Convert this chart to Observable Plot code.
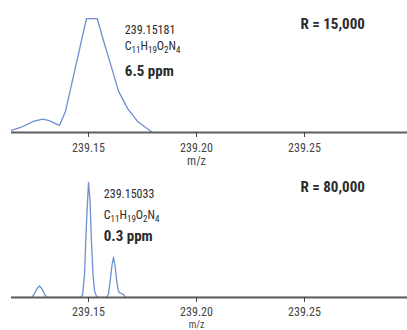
<!DOCTYPE html>
<html>
<head>
<meta charset="utf-8">
<script src="https://cdn.jsdelivr.net/npm/d3@7"></script>
<script src="https://cdn.jsdelivr.net/npm/@observablehq/plot@0.6"></script>
<style>
  html, body { margin: 0; padding: 0; background: #fff; }
  #chart svg { display: block; }
  #chart { width: 407px; }
</style>
</head>
<body>
<div id="chart"></div>
<script>
// ---- data ----
const mzDomain = [239.11435, 239.29769];
const tickValues = [239.15, 239.20, 239.25];
const tickLabels = ["239.15", "239.20", "239.25"];
const axisTitle = "m/z";

// R = 15,000 profile (intensity, clipped at top of frame)
const lowResMz = [239.11435, 239.11852, 239.12454, 239.12870, 239.13148, 239.13657, 239.13935, 239.14167, 239.14537, 239.14907, 239.15403, 239.15694, 239.16019, 239.16389, 239.16806, 239.17269, 239.17778, 239.17963];
const lowResI  = [1.8, 4.4, 9.7, 11.8, 10.6, 6.2, 18.6, 38.1, 69.0, 100, 100, 80.5, 60.2, 36.3, 21.2, 9.7, 2.7, 0];

// R = 80,000 profile
const highResMz = [239.11435, 239.12361, 239.12454, 239.12593, 239.12731, 239.12870, 239.12986, 239.13079, 239.14630, 239.14722, 239.14815, 239.14907, 239.15000, 239.15069, 239.15139, 239.15208, 239.15278, 239.15370, 239.15417, 239.15833, 239.15926, 239.16019, 239.16088, 239.16157, 239.16227, 239.16296, 239.16366, 239.16435, 239.16528, 239.16620, 239.16713, 239.29769];
const highResI  = [0, 0, 2, 7, 10, 7, 2, 0, 0, 2, 20, 65, 100, 85, 48, 20, 6, 1, 0, 0, 3, 17, 28, 35, 28, 16, 7, 4, 3.5, 2.5, 0, 0];

const lowResNotes = {
  mass: "239.15181", formula: "C11H19O2N4", ppm: "6.5 ppm", res: "R = 15,000"
};
const highResNotes = {
  mass: "239.15033", formula: "C11H19O2N4", ppm: "0.3 ppm", res: "R = 80,000"
};

// ---- drawing ----
const FONT = '"Liberation Sans Narrow", "Roboto Condensed", "DejaVu Sans Condensed", "Liberation Sans", sans-serif';
const LINE = "#6d91cc";
const INK = "#2b2b2b";

function panel(mz, inten, notes, layout) {
  const idx = d3.range(mz.length);
  return Plot.plot({
    width: 407,
    height: 165,
    marginLeft: 11,
    marginRight: 0,
    marginTop: layout.top,
    marginBottom: layout.bottom,
    style: { fontFamily: FONT, background: "#fff", overflow: "visible" },
    x: { domain: mzDomain, axis: null },
    y: { domain: [0, 100], axis: null },
    marks: [
      Plot.line(idx, { x: i => mz[i], y: i => inten[i], stroke: LINE, strokeWidth: 1.3, clip: true }),
      Plot.ruleY([0], { stroke: "#5e5e5e", strokeWidth: 2 }),
      Plot.axisX(tickValues, {
        tickSize: 5, tickPadding: layout.pad, fontSize: 12, stroke: "#444", color: "#444",
        tickFormat: d => tickLabels[tickValues.indexOf(d)], label: null
      }),
      Plot.text([axisTitle], { x: () => 239.20, y: () => 0, dy: layout.titleDy, fontSize: layout.titleSize, fill: "#444", text: d => d }),
      Plot.text([notes.mass], { x: () => layout.textX, y: () => layout.massY, text: d => d, textAnchor: "start", fontSize: 12, fill: INK }),
      Plot.text([notes.formula], { x: () => layout.textX, y: () => layout.formulaY, text: d => d, textAnchor: "start", fontSize: 12, fill: INK }),
      Plot.text([notes.ppm], { x: () => layout.textX, y: () => layout.ppmY, text: d => d, textAnchor: "start", fontSize: 15, fontWeight: "bold", fill: INK }),
      Plot.text([notes.res], { x: () => 239.24815, y: () => layout.resY, text: d => d, textAnchor: "start", fontSize: 15, fontWeight: "bold", fill: INK })
    ]
  });
}

const topPanel = panel(lowResMz, lowResI, lowResNotes, { top: 18, bottom: 33, pad: 6, textX: 239.16681, massY: 89.5, formulaY: 75.6, ppmY: 53.7, resY: 94.9, titleDy: 29, titleSize: 12 });
const bottomPanel = panel(highResMz, highResI, highResNotes, { top: 17, bottom: 33, pad: 5, textX: 239.15708, massY: 89.6, formulaY: 71.9, ppmY: 53, resY: 95.7, titleDy: 27.2, titleSize: 10 });

const chart = document.getElementById("chart");
chart.appendChild(topPanel);
chart.appendChild(bottomPanel);

// chemical formula subscripts
d3.selectAll("#chart text").each(function () {
  const t = this.textContent;
  if (!/^C\d+H\d+O\d+N\d+$/.test(t)) return;
  const parts = t.match(/[A-Z]+|\d+/g);
  this.textContent = "";
  let shifted = false;
  for (const p of parts) {
    const ts = d3.select(this).append("tspan").text(p);
    if (/\d/.test(p)) {
      ts.attr("font-size", 9).attr("dy", shifted ? 0 : 3);
      shifted = true;
    } else {
      if (shifted) ts.attr("dy", -3);
      shifted = false;
    }
  }
});
</script>
</body>
</html>
